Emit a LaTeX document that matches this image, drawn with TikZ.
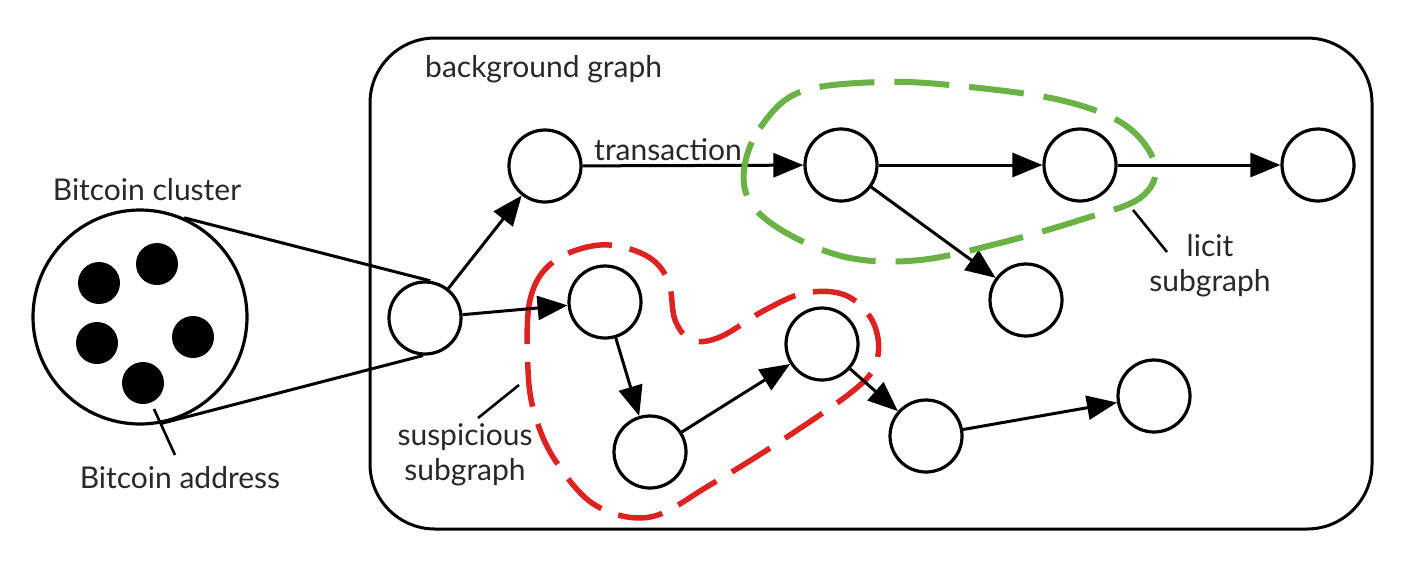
\documentclass[tikz,border=0pt]{standalone}
\usepackage{fontspec}
\setmainfont{Lato}
\usetikzlibrary{arrows.meta}
\definecolor{susred}{RGB}{221,34,34}
\definecolor{licgreen}{RGB}{106,178,70}
\definecolor{txt}{RGB}{40,40,40}
\begin{document}
\begin{tikzpicture}[x=1pt,y=-1pt,
  vtx/.style={circle, draw, line width=3.2pt, minimum size=72pt, inner sep=0pt, fill=white},
  flow/.style={line width=3pt, -{Triangle[length=30pt,width=24pt]}},
  plainline/.style={line width=3pt},
  pointer/.style={line width=2.6pt},
  lbl/.style={font=\fontsize{30}{35}\selectfont, inner sep=0pt, text=txt},
  dot/.style={circle, fill=black, minimum size=42pt, inner sep=0pt},
  redline/.style={draw=susred, line width=5.5pt, dash pattern=on 45pt off 18pt},
  greenline/.style={draw=licgreen, line width=6pt, dash pattern=on 55pt off 20pt}]
\useasboundingbox (0,0) rectangle (1404,566);
\fill[white] (0,0) rectangle (1404,566);

% background graph frame
\node[draw, line width=3pt, rounded corners=65pt, minimum width=1002pt, minimum height=491pt, inner sep=0pt] (bg) at (871,283.5) {};
\node[lbl, anchor=west] (bgt) at (425,69) {background graph};

% suspicious subgraph outline (under the graph)
\draw[redline] plot[smooth cycle, tension=0.6] coordinates {
  (528,370) (530,300) (553,262) (600,245) (645,255) (668,280) (675,320) (692,340)
  (720,337) (765,310) (805,293) (845,295) (872,320) (878,355) (860,385)
  (790,435) (710,485) (650,517) (595,505) (555,460) (535,415)};

% cluster
\node[circle, draw, line width=3.2pt, minimum size=214pt, inner sep=0pt] (cl) at (140,317) {};
\node[dot] (d1) at (99,283) {};
\node[dot] (d2) at (157,264) {};
\node[dot] (d3) at (97,343) {};
\node[dot] (d4) at (193,337) {};
\node[dot] (d5) at (143,383) {};
\node[lbl] (clt) at (147,190) {Bitcoin cluster};
\node[lbl] (adt) at (180,478) {Bitcoin address};
\coordinate (ap1) at (154,409);
\coordinate (ap2) at (175,455);
\draw[pointer] (ap1) -- (ap2);

% graph nodes
\node[vtx] (A) at (425,318) {};
\node[vtx] (B) at (545,166) {};
\node[vtx] (C) at (841,165) {};
\node[vtx] (D) at (1080,165) {};
\node[vtx] (E) at (1318,165) {};
\node[vtx] (F) at (1026,300) {};
\node[vtx] (G) at (605,302) {};
\node[vtx] (H) at (650,452) {};
\node[vtx] (I) at (822,344) {};
\node[vtx] (J) at (926,436) {};
\node[vtx] (K) at (1154,396) {};

\draw[plainline] (cl.66) -- (A.82);
\draw[plainline] (cl.-79) -- (A.-93);

\draw[flow] (A) -- (B);
\draw[flow] (A) -- (G);
\draw[flow] (B) -- (C);
\node[lbl] (trt) at (668,150) {transaction};
\draw[flow] (C) -- (D);
\draw[flow] (D) -- (E);
\draw[flow] (C) -- (F);
\draw[flow] (G) -- (H);
\draw[flow] (H) -- (I);
\draw[flow] (I) -- (J);
\draw[flow] (J) -- (K);

% licit subgraph outline
\draw[greenline] plot[smooth cycle, tension=0.6] coordinates {
  (744,170) (760,128) (800,92) (880,82) (960,86) (1060,100) (1125,125)
  (1155,165) (1140,198) (1080,220) (1000,243) (920,260) (850,258) (790,235) (752,205)};

% labels with pointers
\node[lbl, align=center] (sust) at (465,455) {suspicious\\subgraph};
\coordinate (sp1) at (478,418);
\coordinate (sp2) at (519,385);
\draw[pointer] (sp1) -- (sp2);
\node[lbl, align=center] (lict) at (1210,266) {licit\\subgraph};
\coordinate (lp1) at (1133,210);
\coordinate (lp2) at (1167,252);
\draw[pointer] (lp1) -- (lp2);
\end{tikzpicture}
\end{document}
